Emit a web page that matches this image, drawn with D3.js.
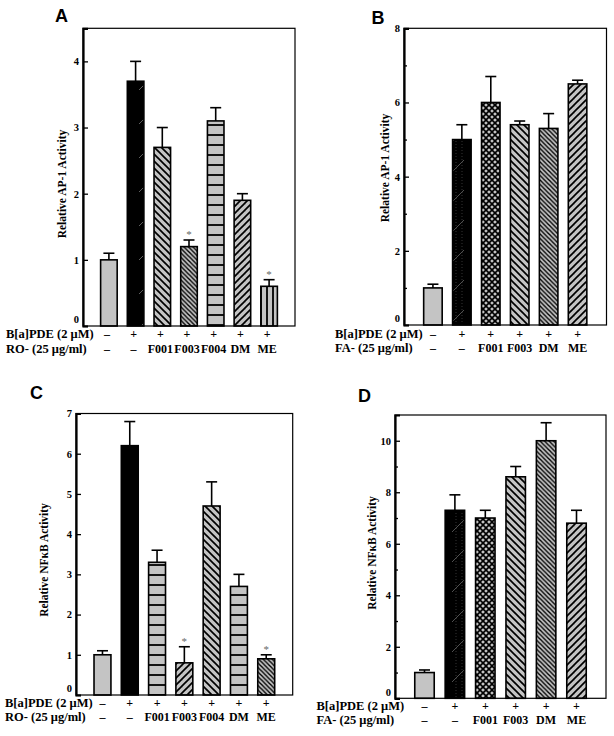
<!DOCTYPE html>
<html>
<head>
<meta charset="utf-8">
<script src="https://cdn.jsdelivr.net/npm/d3@7"></script>
<style>
  html, body { margin: 0; padding: 0; background: #fff; }
  svg { display: block; }
</style>
</head>
<body>
<svg id="chart" width="614" height="736"></svg>
<script>
// ---------------- DATA ----------------
const rowLabelsRO = ["B[a]PDE (2 μM)", "RO- (25 μg/ml)"];
const rowLabelsFA = ["B[a]PDE (2 μM)", "FA- (25 μg/ml)"];

const bapdeRO = ["–", "+", "+", "+", "+", "+", "+"];
const extractRO = ["–", "–", "F001", "F003", "F004", "DM", "ME"];
const bapdeFA = ["–", "+", "+", "+", "+", "+"];
const extractFA = ["–", "–", "F001", "F003", "DM", "ME"];

// Panel A: Relative AP-1 Activity (RO)
const valuesA = [1.0, 3.7, 2.7, 1.2, 3.1, 1.9, 0.6];
const errorsA = [0.1, 0.3, 0.3, 0.1, 0.2, 0.1, 0.1];
const starsA  = [false, false, false, true, false, false, true];
const ticksA  = [0, 1, 2, 3, 4];
const minorA  = [];

// Panel B: Relative AP-1 Activity (FA)
const valuesB = [1.0, 5.0, 6.0, 5.4, 5.3, 6.5];
const errorsB = [0.1, 0.4, 0.7, 0.1, 0.4, 0.1];
const starsB  = [false, false, false, false, false, false];
const ticksB  = [0, 2, 4, 6, 8];
const minorB  = [1, 3, 5, 7];

// Panel C: Relative NFκB Activity (RO)
const valuesC = [1.0, 6.2, 3.3, 0.8, 4.7, 2.7, 0.9];
const errorsC = [0.1, 0.6, 0.3, 0.4, 0.6, 0.3, 0.1];
const starsC  = [false, false, false, true, false, false, true];
const ticksC  = [0, 1, 2, 3, 4, 5, 6, 7];
const minorC  = [];

// Panel D: Relative NFκB Activity (FA)
const valuesD = [1.0, 7.3, 7.0, 8.6, 10.0, 6.8];
const errorsD = [0.1, 0.6, 0.3, 0.4, 0.7, 0.5];
const starsD  = [false, false, false, false, false, false];
const ticksD  = [0, 2, 4, 6, 8, 10];
const minorD  = [1, 3, 5, 7, 9];

// ---------------- STYLE / LAYOUT ----------------
const fillsA = ["gray", "black", "bs", "bsd", "hz", "fs", "vt"];
const fillsB = ["gray", "black2", "cross", "bs", "bsd", "fs"];
const fillsC = ["gray", "black", "hz", "fs", "bs", "hz", "bsd"];
const fillsD = ["gray", "black2", "cross", "bs", "bsd", "fs"];

const panels = [
  { letter: "A", lx: 55, ly: 22, x0: 83, x1: 295, y0: 28.3, y1: 326, ymax: 4.5, pad: 0.97, ldx: -2,
    ylabel: "Relative AP-1 Activity", ylx: 65.5, yly: 184, rowX: 6, rowY: [337.5, 352.5],
    rows: rowLabelsRO, r1: bapdeRO, r2: extractRO,
    values: valuesA, errors: errorsA, stars: starsA, ticks: ticksA, minor: minorA, fills: fillsA },
  { letter: "B", lx: 371.5, ly: 23.5, x0: 404, x1: 606.5, y0: 28.3, y1: 325, ymax: 8, pad: 1.0, ldx: 0,
    ylabel: "Relative AP-1 Activity", ylx: 389, yly: 168, rowX: 335, rowY: [338, 352],
    rows: rowLabelsFA, r1: bapdeFA, r2: extractFA,
    values: valuesB, errors: errorsB, stars: starsB, ticks: ticksB, minor: minorB, fills: fillsB },
  { letter: "C", lx: 30, ly: 398.5, x0: 76, x1: 292.7, y0: 413.5, y1: 695, ymax: 7, pad: 0.97, ldx: 0,
    ylabel: "Relative NFκB Activity", ylx: 47.5, yly: 560, rowX: 5, rowY: [706.5, 721],
    rows: rowLabelsRO, r1: bapdeRO, r2: extractRO,
    values: valuesC, errors: errorsC, stars: starsC, ticks: ticksC, minor: minorC, fills: fillsC },
  { letter: "D", lx: 358, ly: 401.7, x0: 395, x1: 606, y0: 415, y1: 698.3, ymax: 11, pad: 0.97, ldx: 0,
    ylabel: "Relative NFκB Activity", ylx: 376, yly: 553, rowX: 316.5, rowY: [710, 724],
    rows: rowLabelsFA, r1: bapdeFA, r2: extractFA,
    values: valuesD, errors: errorsD, stars: starsD, ticks: ticksD, minor: minorD, fills: fillsD }
];

const GRAY = "#c4c4c4";
const SERIF = "'Liberation Serif', 'Times New Roman', Times, serif";
const SANS = "'Liberation Sans', Arial, sans-serif";

const svg = d3.select("#chart");
const defs = svg.append("defs");

function hatch(id, size, draw, bg) {
  const p = defs.append("pattern").attr("id", id)
    .attr("patternUnits", "userSpaceOnUse")
    .attr("width", size).attr("height", size);
  p.append("rect").attr("width", size).attr("height", size).attr("fill", bg || GRAY);
  draw(p, size);
}
const ln = (p, x1, y1, x2, y2, w, c) => p.append("line")
  .attr("x1", x1).attr("y1", y1).attr("x2", x2).attr("y2", y2)
  .attr("stroke", c || "#000").attr("stroke-width", w);

// backslash "\" hatching
hatch("bs", 7, (p, s) => { ln(p, -1, -1, s + 1, s + 1, 1.7); ln(p, -s - 1, -1, 1, s + 1, 1.7); ln(p, s - 1, -1, 2 * s + 1, s + 1, 1.7); });
hatch("bsd", 4.5, (p, s) => { ln(p, -1, -1, s + 1, s + 1, 1.4); ln(p, -s - 1, -1, 1, s + 1, 1.4); ln(p, s - 1, -1, 2 * s + 1, s + 1, 1.4); });
// forward slash "/" hatching
hatch("fs", 7, (p, s) => { ln(p, -1, s + 1, s + 1, -1, 1.7); ln(p, -s - 1, s + 1, 1, -1, 1.7); ln(p, s - 1, s + 1, 2 * s + 1, -1, 1.7); });
// horizontal lines
hatch("hz", 10, (p, s) => { ln(p, 0, s / 2, s, s / 2, 1.8); });
// vertical lines
hatch("vt", 6, (p, s) => { ln(p, s / 2, 0, s / 2, s, 1.8); });
// cross hatch
hatch("cross", 6, (p, s) => {
  ln(p, -1, -1, s + 1, s + 1, 1.6); ln(p, -1, s + 1, s + 1, -1, 1.6);
});
// black with faint gray dashes
hatch("black", 34, (p, s) => { ln(p, 3, 22, 13, 12, 0.8, "#777"); }, "#000");
hatch("black2", 30, (p, s) => {
  ln(p, 2, 22, 14, 10, 0.8, "#666");
  p.append("line").attr("x1", 6).attr("y1", 0).attr("x2", 6).attr("y2", s)
    .attr("stroke", "#555").attr("stroke-width", 0.6).attr("stroke-dasharray", "1,2");
  p.append("line").attr("x1", 12).attr("y1", 0).attr("x2", 12).attr("y2", s)
    .attr("stroke", "#555").attr("stroke-width", 0.6).attr("stroke-dasharray", "1,2");
}, "#000");

function fillOf(key) { return key === "gray" ? GRAY : `url(#${key})`; }

panels.forEach(P => {
  const g = svg.append("g");
  const n = P.values.length;
  const idx = d3.range(n);
  const x = d3.scalePoint().domain(idx).range([P.x0, P.x1]).padding(P.pad);
  const y = d3.scaleLinear().domain([0, P.ymax]).range([P.y1, P.y0]);
  const bw = x.step() * (n === 7 ? 0.62 : 0.64);

  // panel letter
  g.append("text").attr("x", P.lx).attr("y", P.ly)
    .attr("font-family", SANS).attr("font-weight", "bold").attr("font-size", 18)
    .text(P.letter);

  // bars
  g.selectAll("rect.bar").data(idx).join("rect").attr("class", "bar")
    .attr("x", i => x(i) - bw / 2).attr("width", bw)
    .attr("y", i => y(P.values[i])).attr("height", i => y(0) - y(P.values[i]))
    .attr("fill", i => fillOf(P.fills[i]))
    .attr("stroke", "#000").attr("stroke-width", 1.6);

  // error bars
  const capW = 5.5;
  g.selectAll("line.err").data(idx).join("line").attr("class", "err")
    .attr("x1", i => x(i)).attr("x2", i => x(i))
    .attr("y1", i => y(P.values[i])).attr("y2", i => y(P.values[i] + P.errors[i]))
    .attr("stroke", "#000").attr("stroke-width", 1.6);
  g.selectAll("line.cap").data(idx).join("line").attr("class", "cap")
    .attr("x1", i => x(i) - capW).attr("x2", i => x(i) + capW)
    .attr("y1", i => y(P.values[i] + P.errors[i])).attr("y2", i => y(P.values[i] + P.errors[i]))
    .attr("stroke", "#000").attr("stroke-width", 1.6);

  // asterisks
  g.selectAll("text.star").data(idx.filter(i => P.stars[i])).join("text").attr("class", "star")
    .attr("x", i => x(i)).attr("y", i => y(P.values[i] + P.errors[i]) - 2)
    .attr("text-anchor", "middle").attr("font-family", SERIF).attr("font-size", 11)
    .attr("fill", "#666").text("*");

  // frame
  g.append("rect").attr("x", P.x0).attr("y", P.y0)
    .attr("width", P.x1 - P.x0).attr("height", P.y1 - P.y0)
    .attr("fill", "none").attr("stroke", "#000").attr("stroke-width", 1.2);

  // y axis (ticks point inward)
  const ax = g.append("g").attr("transform", `translate(${P.x0},0)`)
    .call(d3.axisLeft(y).tickValues(P.ticks).tickSize(-5).tickPadding(4).tickFormat(d3.format("d")));
  ax.select(".domain").attr("stroke-width", 2.2);
  ax.selectAll(".tick line").attr("stroke-width", 1.3);
  ax.selectAll(".tick text").attr("font-family", SERIF).attr("font-weight", "bold")
    .attr("font-size", 10.5).attr("fill", "#000")
    .attr("dy", d => d === 0 ? "-0.3em" : "0.32em");
  if (P.minor.length) {
    const mx = g.append("g").attr("transform", `translate(${P.x0},0)`)
      .call(d3.axisLeft(y).tickValues(P.minor).tickSize(-3).tickFormat(""));
    mx.select(".domain").remove();
    mx.selectAll(".tick line").attr("stroke-width", 1.3);
  }

  // y label
  g.append("text")
    .attr("transform", `translate(${P.ylx},${P.yly}) rotate(-90)`)
    .attr("text-anchor", "middle").attr("font-family", SERIF).attr("font-weight", "bold")
    .attr("font-size", 11.5).text(P.ylabel);

  // row labels
  [P.r1, P.r2].forEach((row, r) => {
    g.append("text").attr("x", P.rowX).attr("y", P.rowY[r])
      .attr("font-family", SERIF).attr("font-weight", "bold").attr("font-size", 12.5)
      .text(P.rows[r]);
    g.selectAll(`text.row${r}`).data(idx).join("text").attr("class", `row${r}`)
      .attr("x", i => x(i) + P.ldx).attr("y", P.rowY[r])
      .attr("text-anchor", "middle").attr("font-family", SERIF).attr("font-weight", "bold")
      .attr("font-size", 12).text(i => row[i]);
  });
});
</script>
</body>
</html>
